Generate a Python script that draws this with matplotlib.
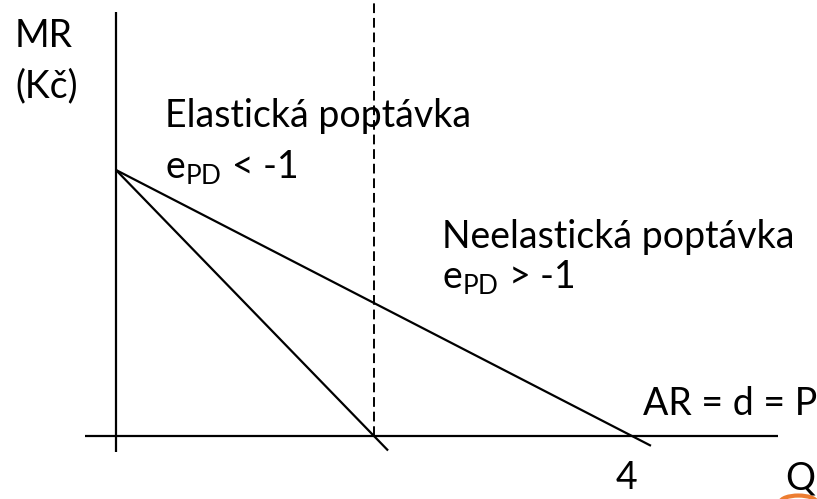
import numpy as np
import matplotlib.pyplot as plt
from matplotlib.patches import Ellipse

plt.rcParams["font.family"] = ["Lato", "DejaVu Sans"]
plt.rcParams["mathtext.fontset"] = "custom"
plt.rcParams["mathtext.rm"] = "Lato"
plt.rcParams["mathtext.it"] = "Lato"

# demand (AR) and marginal revenue, P = 4 - Q, MR = 4 - 2Q
q_ar = [0.0, 4.147]
p_ar = [4.0, -0.147]
q_mr = [0.0, 2.109]
p_mr = [4.0, -0.218]

# axes of the diagram
q_vaxis = [0.0, 0.0]
p_vaxis = [6.38, -0.24]
q_haxis = [-0.24, 5.13]
p_haxis = [0.0, 0.0]

# unit elasticity split
q_split = [2.0, 2.0]
p_split = [0.0, 6.6]

fig = plt.figure(figsize=(8.17, 4.99), dpi=100)
ax = fig.add_axes([0, 0, 1, 1])
ax.set_xlim(-0.899, 5.434)
ax.set_ylim(-0.947, 6.556)
ax.axis("off")

lw = 1.6
ax.plot(q_vaxis, p_vaxis, color="black", lw=lw, solid_capstyle="butt")
ax.plot(q_haxis, p_haxis, color="black", lw=lw, solid_capstyle="butt")
ax.plot(q_ar, p_ar, color="black", lw=lw, solid_capstyle="butt")
ax.plot(q_mr, p_mr, color="black", lw=lw, solid_capstyle="butt")
ax.plot(q_split, p_split, color="black", lw=1.4, dashes=(5, 2.5))

fs = 27
ax.text(-0.783, 5.85, "MR", fontsize=fs, va="baseline")
ax.text(-0.783, 5.10, "(Kč)", fontsize=fs, va="baseline")
ax.text(0.38, 4.647, "Elastická poptávka", fontsize=fs, va="baseline")
ax.text(0.38, 3.88, r"e$_{\mathrm{PD}}$ < -1", fontsize=fs, va="baseline")
ax.text(2.527, 2.827, "Neelastická poptávka", fontsize=fs, va="baseline")
ax.text(2.527, 2.226, r"e$_{\mathrm{PD}}$ > -1", fontsize=fs, va="baseline")
ax.text(4.085, 0.316, "AR = d = P", fontsize=fs, va="baseline")
ax.text(3.96, -0.80, "4", fontsize=fs, va="baseline", ha="center")
ax.text(5.186, -0.80, "Q", fontsize=fs, va="baseline")

# little orange mark under Q
ax.add_patch(Ellipse((5.29, -0.995), 0.28, 0.2, fill=False,
                     edgecolor="#ED7D31", lw=3))

fig.savefig("out.png", dpi=100)
